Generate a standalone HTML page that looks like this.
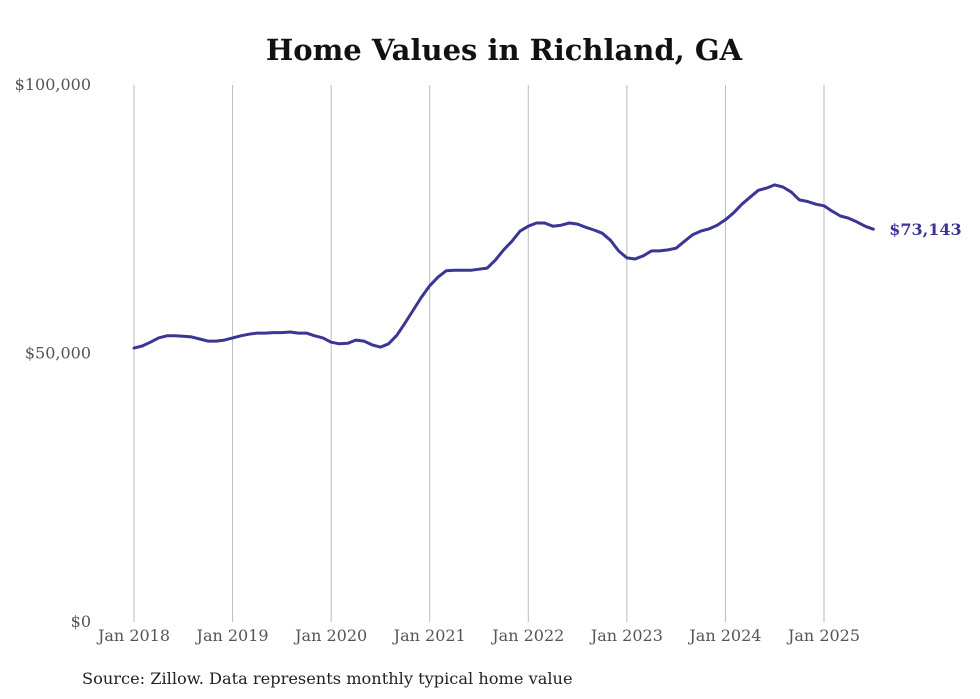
<!DOCTYPE html>
<html><head><meta charset="utf-8"><style>
body{margin:0;background:#fff;width:980px;height:699px;overflow:hidden}
svg{display:block}
</style></head><body>
<svg id="chart" width="980" height="699" xmlns="http://www.w3.org/2000/svg">
<text x="504" y="60" text-anchor="middle" font-family="DejaVu Serif, serif" font-weight="bold" font-size="29" fill="#111">Home Values in Richland, GA</text>
<g id="grid"></g><g id="yaxis"></g><g id="xaxis"></g><g id="series"></g>
<text x="82" y="684" font-family="DejaVu Serif, serif" font-size="16.2" fill="#222">Source: Zillow. Data represents monthly typical home value</text>
</svg>
<script>
const yTicks=[0,50000,100000];
const yTickLabels=["$0","$50,000","$100,000"];
const xYears=[2018,2019,2020,2021,2022,2023,2024,2025];
const xTickLabels=["Jan 2018","Jan 2019","Jan 2020","Jan 2021","Jan 2022","Jan 2023","Jan 2024","Jan 2025"];
const values=[51.0,51.4,52.1,52.9,53.3,53.3,53.2,53.1,52.7,52.3,52.3,52.5,
52.9,53.3,53.6,53.8,53.8,53.9,53.9,54.0,53.8,53.8,53.3,52.9,
52.1,51.8,51.9,52.5,52.3,51.6,51.2,51.8,53.4,55.7,58.1,60.5,
62.6,64.2,65.4,65.5,65.5,65.5,65.7,65.9,67.4,69.3,70.9,72.8,
73.7,74.3,74.3,73.7,73.9,74.3,74.1,73.5,73.0,72.4,71.1,69.1,
67.8,67.6,68.2,69.1,69.1,69.3,69.6,70.9,72.1,72.8,73.2,73.9,
74.9,76.2,77.8,79.1,80.4,80.8,81.4,81.0,80.1,78.6,78.3,77.8,
77.5,76.5,75.6,75.2,74.5,73.7,73.143].map(v=>v*1000);
const lastLabel="$73,143";
const NS="http://www.w3.org/2000/svg";
const y=v=>622-v/100000*537;
const x=m=>134+m*(690/84);
function mk(t,a,p){const e=document.createElementNS(NS,t);for(const k in a)e.setAttribute(k,a[k]);p.appendChild(e);return e;}
const grid=document.getElementById('grid'),ya=document.getElementById('yaxis'),xa=document.getElementById('xaxis'),se=document.getElementById('series');
yTicks.forEach((v,i)=>{const t=mk('text',{x:91,y:y(v)+5,'text-anchor':'end','font-family':'DejaVu Serif, serif','font-size':16,fill:'#555'},ya);t.textContent=yTickLabels[i];

});
xYears.forEach((yr,i)=>{const m=(yr-2018)*12;const l=mk('line',{x1:x(m),x2:x(m),y1:85,y2:622,stroke:'#bbb','stroke-width':1},grid);


const t=mk('text',{x:x(m),y:641,'text-anchor':'middle','font-family':'DejaVu Serif, serif','font-size':16,fill:'#555'},xa);t.textContent=xTickLabels[i];

});
const d=values.map((v,i)=>(i?'L':'M')+x(i).toFixed(1)+' '+y(v).toFixed(1)).join(' ');
const p=mk('path',{d:d,fill:'none',stroke:'#3b3594','stroke-width':3,'stroke-linejoin':'round','stroke-linecap':'round'},se);


const n=values.length-1;
const lt=mk('text',{x:x(n)+16,y:y(values[n])+6,'font-family':'DejaVu Serif, serif','font-weight':'bold','font-size':16,fill:'#3b3594'},se);lt.textContent=lastLabel;


</script>
</body></html>
